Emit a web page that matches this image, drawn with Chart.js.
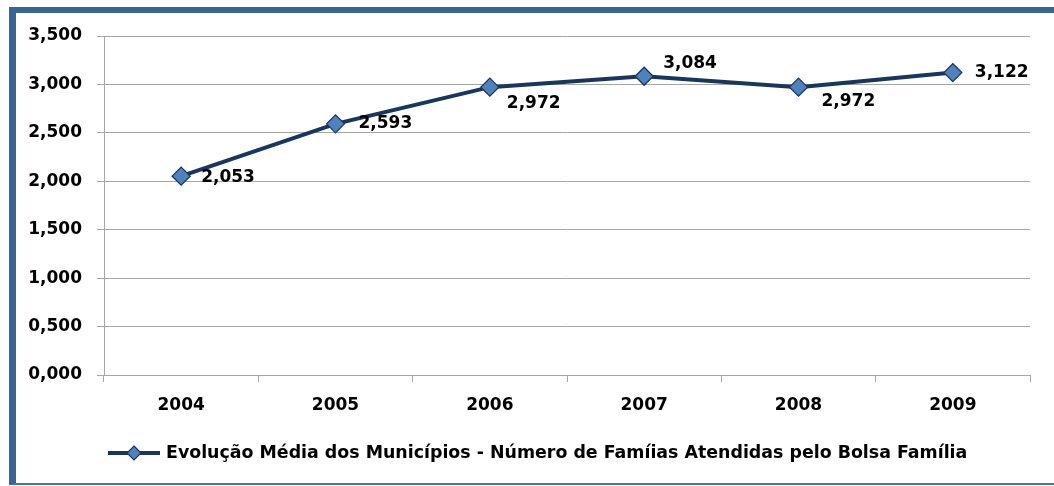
<!DOCTYPE html>
<html>
<head>
<meta charset="utf-8">
<script src="https://cdn.jsdelivr.net/npm/chart.js@4/dist/chart.umd.min.js"></script>
<style>
  html, body { margin: 0; padding: 0; background: #fff; }
  #wrap { position: relative; width: 1054px; height: 486px; overflow: hidden; }
  #frame {
    position: absolute; left: 9px; top: 7px; width: 1045px; height: 478px;
    border-left: 7px solid #3a6495; border-top: 6px solid #3a6495; border-bottom: 2px solid #4a72a0;
    box-sizing: border-box; pointer-events: none;
  }
  canvas { position: absolute; left: 0; top: 0; }
</style>
</head>
<body>
<div id="wrap">
  <div id="frame"></div>
  <canvas id="evolucao" width="1054" height="486"></canvas>
</div>
<script>
var years = ['2004', '2005', '2006', '2007', '2008', '2009']
var familias = [2.053, 2.593, 2.972, 3.084, 2.972, 3.122]
var yTicks = [0, 0.5, 1, 1.5, 2, 2.5, 3, 3.5]
var seriesName = 'Evolução Média dos Municípios - Número de Famíias Atendidas pelo Bolsa Família'

var navy = '#1b365c'
var markerFill = '#4f81bd'
var gridGray = '#a6a6a6'
var font = 'DejaVu Sans'

function fmt(v) {
    return v.toFixed(3).replace('.', ',')
}

// label offsets from each marker (same look as the original chart)
var labelShift = [[20, 1], [23, 0], [17, 16], [19, -13], [23, 14], [22, 0]]

var valueLabels = {
    id: 'valueLabels',
    afterDatasetsDraw(chart) {
        var ctx = chart.ctx
        var meta = chart.getDatasetMeta(0)
        ctx.save()
        ctx.font = 'bold 17px "' + font + '"'
        ctx.fillStyle = '#000'
        ctx.textAlign = 'left'
        ctx.textBaseline = 'middle'
        meta.data.forEach(function (pt, i) {
            var s = labelShift[i]
            ctx.fillText(fmt(chart.data.datasets[0].data[i]), pt.x + s[0], pt.y + s[1])
        })
        ctx.restore()
    }
}

var bottomLegend = {
    id: 'bottomLegend',
    afterDraw(chart) {
        var ctx = chart.ctx
        var y = 453
        ctx.save()
        ctx.strokeStyle = navy
        ctx.lineWidth = 4
        ctx.beginPath()
        ctx.moveTo(108, y)
        ctx.lineTo(160, y)
        ctx.stroke()
        ctx.beginPath()
        ctx.moveTo(134, y - 7)
        ctx.lineTo(141, y)
        ctx.lineTo(134, y + 7)
        ctx.lineTo(127, y)
        ctx.closePath()
        ctx.fillStyle = markerFill
        ctx.fill()
        ctx.lineWidth = 1.2
        ctx.stroke()
        ctx.font = 'bold 17.4px "' + font + '"'
        ctx.fillStyle = '#000'
        ctx.textBaseline = 'middle'
        ctx.fillText(chart.data.datasets[0].label, 166, y)
        ctx.restore()
    }
}

new Chart(document.getElementById('evolucao').getContext('2d'), {
    type: 'line',
    data: {
        labels: years,
        datasets: [{
            label: seriesName,
            data: familias,
            borderColor: navy,
            borderWidth: 4,
            pointStyle: 'rectRot',
            pointRadius: 9,
            pointBackgroundColor: markerFill,
            pointBorderColor: navy,
            pointBorderWidth: 1.3,
            tension: 0
        }]
    },
    options: {
        responsive: false,
        animation: false,
        layout: { padding: { left: 0, right: 24, top: 36, bottom: 66 } },
        plugins: {
            legend: { display: false },
            tooltip: { enabled: false }
        },
        scales: {
            x: {
                offset: true,
                afterFit: function (s) { s.height = 45 },
                grid: { offset: true, drawOnChartArea: false, tickLength: 7, color: gridGray },
                border: { color: gridGray, width: 1 },
                ticks: { color: '#000', padding: 13, font: { family: font, size: 17, weight: 'bold' } }
            },
            y: {
                min: 0,
                max: 3.5,
                afterFit: function (s) { s.width = 104 },
                afterBuildTicks: function (s) { s.ticks = yTicks.map(function (v) { return { value: v } }) },
                grid: { color: gridGray, tickLength: 7 },
                border: { color: gridGray, width: 1 },
                ticks: {
                    color: '#000',
                    padding: 15,
                    font: { family: font, size: 17, weight: 'bold' },
                    callback: function (v) { return fmt(v) }
                }
            }
        }
    },
    plugins: [valueLabels, bottomLegend]
});
</script>
</body>
</html>
